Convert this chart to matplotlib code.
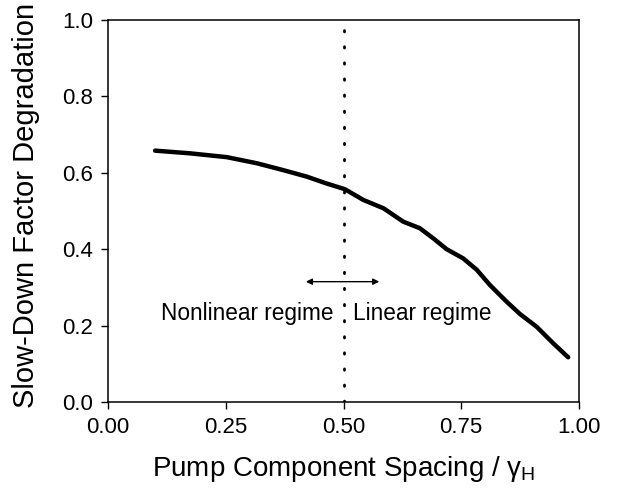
import matplotlib
matplotlib.use("Agg")
import matplotlib.pyplot as plt

# curve
spacing = [0.10, 0.174, 0.252, 0.316, 0.372, 0.422, 0.464, 0.503, 0.542, 0.585,
           0.627, 0.662, 0.691, 0.719, 0.754, 0.783, 0.811, 0.846, 0.875, 0.910,
           0.945, 0.977]
degradation = [0.658, 0.651, 0.641, 0.625, 0.607, 0.590, 0.572, 0.557, 0.529, 0.507,
               0.472, 0.455, 0.428, 0.400, 0.376, 0.346, 0.306, 0.263, 0.230, 0.197,
               0.154, 0.117]

x_ticks = [0.00, 0.25, 0.50, 0.75, 1.00]
y_ticks = [0.0, 0.2, 0.4, 0.6, 0.8, 1.0]
boundary = 0.5

plt.rcParams["font.family"] = ["Liberation Sans", "DejaVu Sans"]
plt.rcParams["mathtext.default"] = "regular"

fig = plt.figure(figsize=(6.26, 4.93), dpi=100)
ax = fig.add_axes([108 / 626, 1 - 402 / 493, 471 / 626, 382 / 493])

ax.plot(spacing, degradation, color="black", linewidth=3.2, solid_capstyle="round")
ax.axvline(boundary, color="black", linewidth=2, linestyle=(0, (0.5, 5.3)),
           dash_capstyle="round")

# double arrow + regime labels
ax.annotate("", xy=(0.42, 0.315), xytext=(0.576, 0.315),
            arrowprops=dict(arrowstyle="<|-|>", color="black", lw=1,
                            mutation_scale=9, shrinkA=0, shrinkB=0))
ax.text(0.478, 0.232, "Nonlinear regime", ha="right", va="center", fontsize=16.3)
ax.text(0.520, 0.232, "Linear regime", ha="left", va="center", fontsize=16.3)

ax.set_xlim(0, 1)
ax.set_ylim(0, 1)
ax.set_xticks(x_ticks)
ax.set_xticklabels([f"{t:.2f}" for t in x_ticks])
ax.set_yticks(y_ticks)
ax.set_yticklabels([f"{t:.1f}" for t in y_ticks])
ax.tick_params(direction="out", length=5, width=1, pad=5.5, labelsize=16)
for s in ax.spines.values():
    s.set_linewidth(1.1)

ax.set_xlabel("Pump Component Spacing / $γ_H$", fontsize=20, labelpad=12)
ax.set_ylabel("Slow-Down Factor Degradation", fontsize=21, loc="bottom")
ax.yaxis.set_label_coords(-0.145, -0.016)

fig.savefig("out.png", dpi=100)
plt.close(fig)
